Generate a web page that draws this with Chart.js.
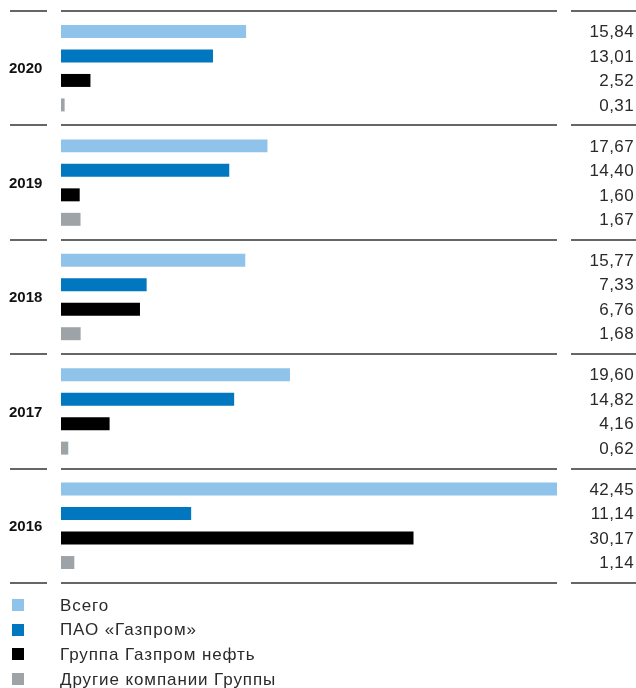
<!DOCTYPE html>
<html>
<head>
<meta charset="utf-8">
<script src="https://cdn.jsdelivr.net/npm/chart.js@4.4.1/dist/chart.umd.min.js"></script>
<style>
  html, body { margin: 0; padding: 0; background: #fff; }
  canvas { display: block; }
</style>
</head>
<body>
<canvas id="c" width="636" height="688"></canvas>
<script>
// данные по годам
const years = ["2020", "2019", "2018", "2017", "2016"];
const totalVals = [15.84, 17.67, 15.77, 19.60, 42.45];
const gazpromVals = [13.01, 14.40, 7.33, 14.82, 11.14];
const neftVals = [2.52, 1.60, 6.76, 4.16, 30.17];
const otherVals = [0.31, 1.67, 1.68, 0.62, 1.14];
const seriesNames = ["Всего", "ПАО «Газпром»", "Группа Газпром нефть", "Другие компании Группы"];
const seriesColors = ["#8fc3e9", "#0077be", "#000000", "#9da3a6"];

const seriesData = [totalVals, gazpromVals, neftVals, otherVals];

const fmt = (v) => v.toFixed(2).replace(".", ",");

// линии, подписи годов, значения, легенда
const tablePlugin = {
  id: "tablePlugin",
  afterDraw(chart) {
    const ctx = chart.ctx;
    const yScale = chart.scales.y;
    const area = chart.chartArea;

    ctx.save();
    // разделители
    ctx.strokeStyle = "#666";
    ctx.lineWidth = 2;
    for (let i = 0; i <= years.length; i++) {
      const y = Math.round(yScale.getPixelForValue(i - 0.5));
      [[10, 47], [61, 557], [571, 636]].forEach(([a, b]) => {
        ctx.beginPath();
        ctx.moveTo(a, y);
        ctx.lineTo(b, y);
        ctx.stroke();
      });
    }

    // годы
    ctx.fillStyle = "#111";
    ctx.font = "bold 15px 'Liberation Sans', Arial, sans-serif";
    ctx.textAlign = "left";
    ctx.textBaseline = "middle";
    years.forEach((yr, i) => {
      ctx.fillText(yr, 9, yScale.getPixelForValue(i) + 1);
    });

    // значения справа
    ctx.fillStyle = "#2a2a2a";
    ctx.font = "17px 'Liberation Sans', Arial, sans-serif";
    ctx.letterSpacing = "0.4px";
    ctx.textAlign = "right";
    chart.data.datasets.forEach((ds, di) => {
      const meta = chart.getDatasetMeta(di);
      meta.data.forEach((bar, i) => {
        ctx.fillText(fmt(ds.data[i]), 634, bar.y + 1);
      });
    });

    // легенда
    ctx.textAlign = "left";
    ctx.font = "17px 'Liberation Sans', Arial, sans-serif";
    ctx.letterSpacing = "0.9px";
    seriesNames.forEach((name, i) => {
      const cy = area.bottom + 22 + i * 24.7;
      ctx.fillStyle = seriesColors[i];
      ctx.fillRect(12, Math.round(cy - 6), 12, 12);
      ctx.fillStyle = "#2a2a2a";
      ctx.fillText(name, 60, cy + 1);
    });
    ctx.restore();
  },
};

new Chart(document.getElementById("c"), {
  type: "bar",
  data: {
    labels: years,
    datasets: seriesNames.map((name, i) => ({
      label: name,
      data: seriesData[i],
      backgroundColor: seriesColors[i],
      borderWidth: 0,
      categoryPercentage: 0.856,
      barPercentage: 0.53,
    })),
  },
  options: {
    responsive: false,
    maintainAspectRatio: false,
    animation: false,
    indexAxis: "y",
    layout: { padding: { left: 61, right: 79, top: 11, bottom: 105 } },
    scales: {
      x: { display: false, min: 0, max: 42.45 },
      y: { display: false },
    },
    plugins: {
      legend: { display: false },
      tooltip: { enabled: false },
    },
  },
  plugins: [tablePlugin],
});
</script>
</body>
</html>
